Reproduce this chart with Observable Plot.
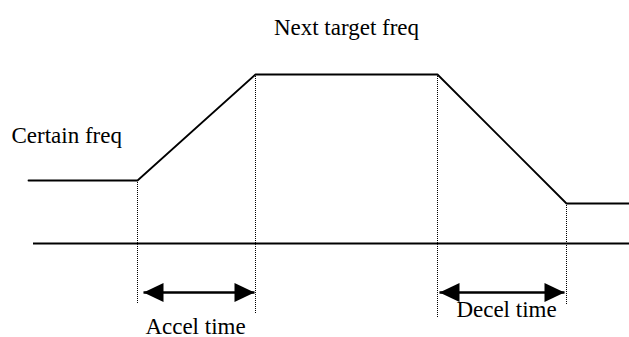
<!DOCTYPE html>
<html>
<head>
<meta charset="utf-8">
<script src="https://cdn.jsdelivr.net/npm/d3@7"></script>
<script src="https://cdn.jsdelivr.net/npm/@observablehq/plot@0.6"></script>
<style>
  html, body { margin: 0; padding: 0; background: #fff; overflow: hidden; }
</style>
</head>
<body>
<div id="chart"></div>
<script>
// Time breakpoints (horizontal units) and frequency levels (vertical units, 0 = time axis)
const timeKnots = [28, 137, 255, 437, 566, 629];
const freqKnots = [63, 63, 169, 169, 40, 40];
const axisStart = 33;
const axisEnd = 629;

// Dotted guide lines: time, top frequency, bottom extent
const guideTimes = [137, 255, 437, 566];
const guideTops = [63, 169, 169, 40];
const guideBottoms = [-61, -70, -74, -62];

// Double-headed arrows for accel / decel durations
const arrowNames = ["Accel time", "Decel time"];
const arrowStart = [143, 439];
const arrowEnd = [254, 564];
const arrowLevel = [-49, -49];

// Labels
const labelTexts = ["Next target freq", "Certain freq", "Accel time", "Decel time"];
const labelTime = [346, 11, 195, 506];
const labelFreq = [209, 101, -90, -73];
const labelAnchor = ["middle", "start", "middle", "middle"];

const profile = timeKnots.map((t, i) => ({t, f: freqKnots[i]}));
const guides = guideTimes.map((t, i) => ({t, top: guideTops[i], bottom: guideBottoms[i]}));
const arrows = arrowNames.map((name, i) => ({name, x1: arrowStart[i], x2: arrowEnd[i], y: arrowLevel[i]}));
const heads = arrows.flatMap(a => [
  {t: a.x2, f: a.y, rotate: 0},
  {t: a.x1, f: a.y, rotate: 180}
]);
const labels = labelTexts.map((text, i) => ({text, t: labelTime[i], f: labelFreq[i], anchor: labelAnchor[i]}));

// Filled arrowhead with its tip at the origin, pointing right
const arrowHead = {
  draw(context) {
    context.moveTo(0, 0);
    context.lineTo(-20, -9.5);
    context.lineTo(-20, 9.5);
    context.closePath();
  }
};

const font = "'Liberation Serif', 'Times New Roman', serif";

const chart = Plot.plot({
  width: 629,
  height: 337,
  margin: 0,
  x: {domain: [0, 629], axis: null},
  y: {domain: [-94, 243], axis: null},
  style: {background: "#fff", fontFamily: font},
  marks: [
    Plot.ruleX(guides, {x: "t", y1: "top", y2: "bottom", stroke: "#000", strokeWidth: 1, strokeDasharray: "1,1"}),
    Plot.ruleY([0], {x1: axisStart, x2: axisEnd, stroke: "#000", strokeWidth: 2}),
    Plot.line(profile, {x: "t", y: "f", stroke: "#000", strokeWidth: 1.8, strokeLinejoin: "miter"}),
    Plot.link(arrows, {x1: "x1", x2: "x2", y1: "y", y2: "y", stroke: "#000", strokeWidth: 2.5}),
    Plot.dot(heads, {x: "t", y: "f", symbol: arrowHead, rotate: "rotate", fill: "#000", stroke: "none", r: 5}),
    ...["middle", "start"].map(a =>
      Plot.text(labels.filter(d => d.anchor === a), {
        x: "t", y: "f", text: "text", textAnchor: a, lineAnchor: "bottom",
        fontSize: 23, fill: "#000", fontFamily: font
      })
    )
  ]
});

document.getElementById("chart").appendChild(chart);
</script>
</body>
</html>
